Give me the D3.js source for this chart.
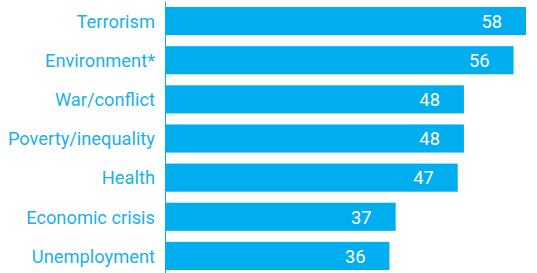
<!DOCTYPE html>
<html>
<head>
<meta charset="utf-8">
<script src="https://cdn.jsdelivr.net/npm/d3@7"></script>
<style>
  body { margin: 0; background: #fff; }
  svg { display: block; }
</style>
</head>
<body>
<svg width="537" height="273"></svg>
<script>
let categories = ["Terrorism", "Environment*", "War/conflict", "Poverty/inequality", "Health", "Economic crisis", "Unemployment"];
let values = [58, 56, 48, 48, 47, 37, 36];

let svg = d3.select("svg");
let blue = "#00aeef";
let labelBlue = "#1cb0e8";
let axisX = 165.5;

let x = d3.scaleLinear().domain([0, 58]).range([166, 526]);
let y = d3.scaleBand().domain(categories).range([1.5, 275.5])
    .paddingInner(0.282).paddingOuter(0.141);

svg.selectAll(".bar")
    .data(categories)
    .enter().append("rect")
    .attr("class", "bar")
    .attr("x", x(0))
    .attr("y", d => y(d))
    .attr("width", (d, i) => x(values[i]) - x(0))
    .attr("height", y.bandwidth())
    .attr("fill", blue);

// axis line
svg.append("line")
    .attr("x1", axisX).attr("x2", axisX)
    .attr("y1", 2).attr("y2", 273)
    .attr("stroke", blue)
    .attr("stroke-width", 1);

svg.selectAll(".cat")
    .data(categories)
    .enter().append("text")
    .attr("class", "cat")
    .attr("x", 155)
    .attr("y", d => y(d) + y.bandwidth() / 2)
    .attr("dy", "0.37em")
    .attr("text-anchor", "end")
    .attr("fill", labelBlue)
    .style("font-family", "Roboto, sans-serif")
    .style("font-size", "18.3px")
    .text(d => d);

svg.selectAll(".val")
    .data(categories)
    .enter().append("text")
    .attr("class", "val")
    .attr("x", (d, i) => x(values[i]) - 24)
    .attr("y", d => y(d) + y.bandwidth() / 2)
    .attr("dy", "0.37em")
    .attr("text-anchor", "end")
    .attr("fill", "#fff")
    .style("font-family", "Roboto, sans-serif")
    .style("font-size", "18.3px")
    .text((d, i) => values[i]);
</script>
</body>
</html>
